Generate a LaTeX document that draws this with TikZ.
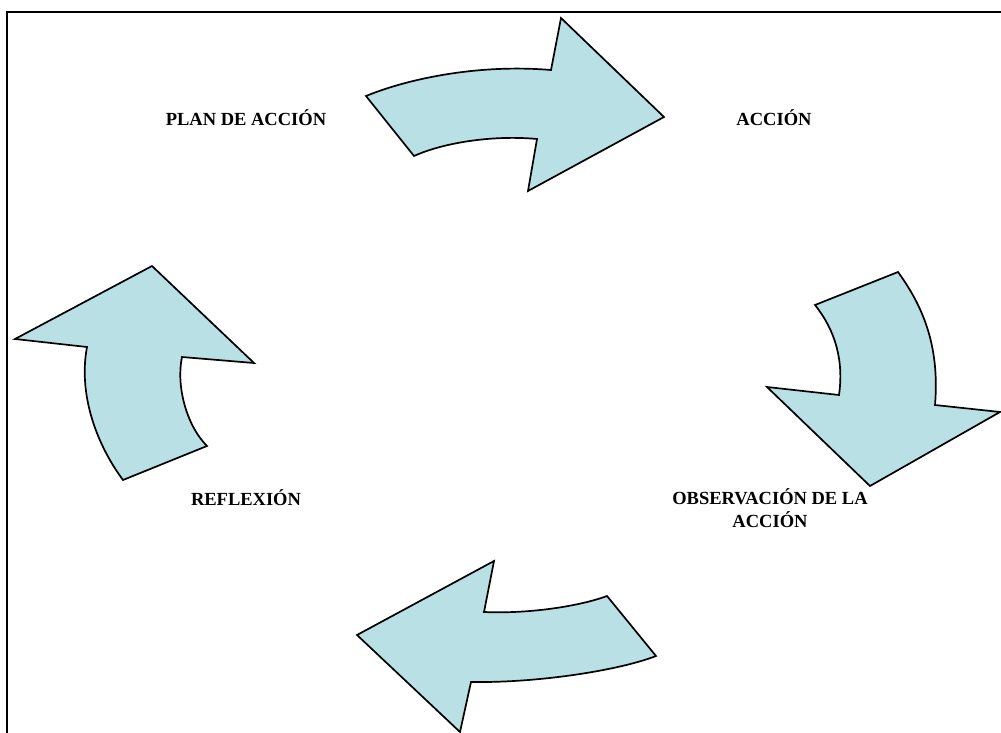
\documentclass[tikz,border=0pt]{standalone}
\usepackage{fontspec}
\setmainfont{Liberation Serif}
\definecolor{arrowfill}{RGB}{185,224,228}
\tikzset{
  bigarrow/.style={draw=black, line width=1.7pt, fill=arrowfill, line join=miter},
  steplabel/.style={font=\bfseries\fontsize{18.5}{23}\selectfont, align=center, inner sep=0pt},
  frameline/.style={draw=black, line width=2.2pt}
}
\begin{document}
\begin{tikzpicture}[x=1pt,y=-1pt]
\useasboundingbox (0,0) rectangle (1001,733);
% frame (top and left edges)
\draw[frameline] (1001,12) -- (7,12) -- (7,733);

% top arrow: plan -> action
\draw[bigarrow] (366,96) .. controls (410,78) and (480,64) .. (551,70)
  -- (561,18) -- (664,117) -- (528,191) -- (537,139)
  .. controls (495,135) and (445,142) .. (414,156) -- cycle;

% right arrow: action -> observation
\draw[bigarrow] (815,305) -- (898,272)
  .. controls (922,305) and (940,345) .. (935,405)
  -- (1000,412) -- (870,486) -- (767,387) -- (839,395)
  .. controls (844,360) and (835,330) .. (815,305) -- cycle;

% bottom arrow: observation -> reflection
\draw[bigarrow] (607,596) .. controls (580,606) and (530,614) .. (484,612)
  -- (494,561) -- (357,635) -- (460,732) -- (471,682)
  .. controls (540,683) and (620,670) .. (656,656) -- cycle;

% left arrow: reflection -> plan
\draw[bigarrow] (123,480) .. controls (97,445) and (78,395) .. (87,347)
  -- (15,339) -- (152,266) -- (254,363) -- (182,357)
  .. controls (176,385) and (186,425) .. (207,446) -- cycle;

% labels
\node[steplabel, anchor=base] (plan) at (246,126) {PLAN DE ACCIÓN};
\node[steplabel, anchor=base] (accion) at (774,126) {ACCIÓN};
\node[steplabel, anchor=base] (reflexion) at (246,505.5) {REFLEXIÓN};
\node[steplabel, anchor=north] (observacion) at (770,488.5) {OBSERVACIÓN DE LA\\ACCIÓN};
\end{tikzpicture}
\end{document}
